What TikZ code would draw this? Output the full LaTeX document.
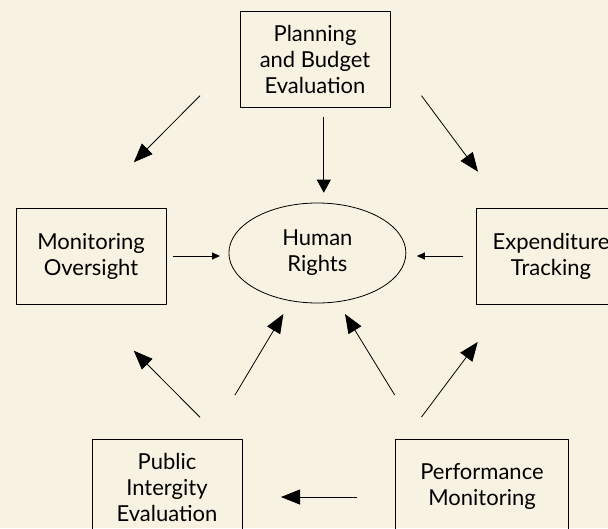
\documentclass[tikz,border=0pt]{standalone}
\usepackage{fontspec}
\setmainfont{Lato}
\usetikzlibrary{arrows.meta,shapes.geometric}
\definecolor{paper}{HTML}{F8F2E3}
\tikzset{
  boxnode/.style={draw, line width=0.8pt, minimum width=150pt, minimum height=96pt, align=center, inner sep=0pt},
  ovalnode/.style={draw, ellipse, line width=0.8pt, minimum width=177pt, minimum height=100pt, align=center, inner sep=0pt},
  bigarrow/.style={line width=0.8pt, -{Triangle[length=19pt,width=15pt]}},
  smallarrow/.style={line width=0.8pt, -{Triangle[length=8pt,width=7pt]}}
}
\begin{document}
\begin{tikzpicture}[x=1pt, y=-1pt, font=\fontsize{22}{26}\selectfont, line join=round]
  \useasboundingbox (0,0) rectangle (608,528);
  \fill[paper] (0,0) rectangle (608,528);
  % boxes
  \node[boxnode] (plan) at (315,59) {Planning\\and Budget\\Evaluation};
  \node[boxnode] (mon) at (91,256.5) {Monitoring\\Oversight};
  \node[boxnode] (exp) at (551,256.5) {Expenditure\\Tracking};
  \node[ovalnode] (hr) at (317.4,253) {Human\\Rights};
  \node[boxnode] (pub) at (167,487) {Public\\Intergity\\Evaluation};
  \node[boxnode, minimum width=173pt] (perf) at (482,487) {Performance\\Monitoring};
  % arrow ends
  \coordinate (planL) at (200,95.7);   \coordinate (monT) at (133.8,162.3);
  \coordinate (planB) at (323.8,116.7); \coordinate (hrT) at (323.8,192.7);
  \coordinate (planR) at (421.5,95.7); \coordinate (expT) at (478,171.7);
  \coordinate (monR) at (173,256);     \coordinate (hrL) at (220,256);
  \coordinate (expL) at (463.4,256);   \coordinate (hrR) at (416.8,256);
  \coordinate (pubL) at (200,417.3);   \coordinate (monB) at (133.8,350.7);
  \coordinate (pubR) at (235,395);     \coordinate (hrBL) at (283.4,314);
  \coordinate (perfL) at (394.7,395);  \coordinate (hrBR) at (345,314);
  \coordinate (perfR) at (421.5,417);  \coordinate (expB) at (477.7,342);
  \coordinate (perfW) at (356.7,497);  \coordinate (pubE) at (281,497);
  % arrows
  \draw[bigarrow] (planL) -- (monT);
  \draw[line width=0.8pt, -{Triangle[length=13pt,width=14pt]}] (planB) -- (hrT);
  \draw[bigarrow] (planR) -- (expT);
  \draw[smallarrow] (monR) -- (hrL);
  \draw[smallarrow] (expL) -- (hrR);
  \draw[bigarrow] (pubL) -- (monB);
  \draw[bigarrow] (pubR) -- (hrBL);
  \draw[bigarrow] (perfL) -- (hrBR);
  \draw[bigarrow] (perfR) -- (expB);
  \draw[bigarrow] (perfW) -- (pubE);
\end{tikzpicture}
\end{document}
